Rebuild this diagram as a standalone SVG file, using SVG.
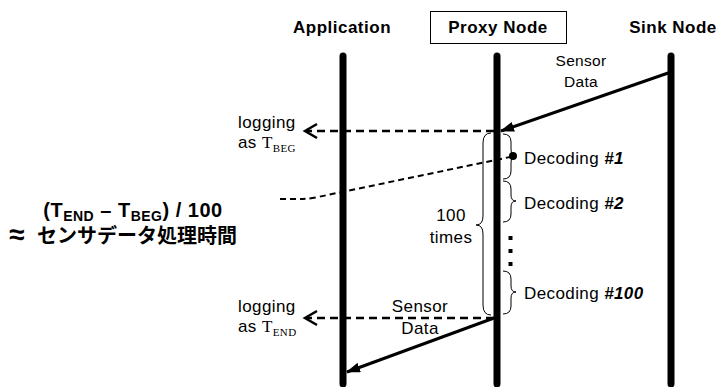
<svg xmlns="http://www.w3.org/2000/svg" width="719" height="387" viewBox="0 0 719 387">
<style>
.hd{font-family:"Liberation Sans",Arial,sans-serif;font-weight:bold;font-size:17px;letter-spacing:0.5px;fill:#000}
.tx{font-family:"Liberation Sans",Arial,sans-serif;font-size:17px;letter-spacing:0.4px;fill:#000}
.sm{font-family:"Liberation Sans",Arial,sans-serif;font-size:15.5px;letter-spacing:0.3px;fill:#000}
.tm{font-family:"Liberation Serif","Times New Roman",serif;fill:#000}
.bi{font-weight:bold;font-style:italic}
.life{stroke:#000;stroke-width:7;stroke-linecap:round;fill:none}
.dash{stroke:#000;stroke-width:2.5;stroke-dasharray:8 5;fill:none}
.chev{stroke:#000;stroke-width:2.5;fill:none}
.solid{stroke:#000;stroke-width:3;fill:none}
.brace{stroke:#000;stroke-width:1;fill:none}
.fm{font-family:"Liberation Sans",Arial,"Noto Sans CJK JP",sans-serif;font-weight:bold;fill:#000}
</style>
<defs>
<marker id="ah" viewBox="0 0 14 10" refX="13" refY="5" markerWidth="14" markerHeight="10" markerUnits="userSpaceOnUse" orient="auto">
<path d="M0,0 L14,5 L0,10 Z" fill="#000"/>
</marker>
</defs>
<g id="application">
<text class="hd" x="342" y="33" text-anchor="middle">Application</text>
<line class="life" x1="343" y1="56" x2="343" y2="384"/>
</g>
<g id="proxy-node">
<rect x="430.5" y="11.5" width="136" height="32" fill="#fff" stroke="#000" stroke-width="1"/>
<text class="hd" x="498" y="33" text-anchor="middle">Proxy Node</text>
<line class="life" x1="497" y1="56" x2="497" y2="384"/>
</g>
<g id="sink-node">
<text class="hd" x="673" y="33" text-anchor="middle">Sink Node</text>
<line class="life" x1="671" y1="56" x2="671" y2="384"/>
</g>
<g id="connectors">
<line class="solid" x1="671" y1="72" x2="501" y2="131" marker-end="url(#ah)"/>
<line class="dash" x1="494" y1="131" x2="307" y2="131"/>
<polyline class="chev" points="317,124 305,131 317,138"/>
<line class="dash" x1="494" y1="318" x2="307" y2="318"/>
<polyline class="chev" points="317,311 305,318 317,325"/>
<line class="solid" x1="494" y1="318" x2="347" y2="372" marker-end="url(#ah)"/>
<path class="dash" style="stroke-width:2;stroke-dasharray:6 4" d="M280,199 L300,199 Q308,199 318,197 L510,157"/>
</g>
<g id="labels">
<text class="sm" x="581" y="66" text-anchor="middle">Sensor</text>
<text class="sm" x="581" y="87" text-anchor="middle">Data</text>
<text class="tx" x="420" y="312" text-anchor="middle">Sensor</text>
<text class="tx" x="420" y="334" text-anchor="middle">Data</text>
<text class="tx" x="238" y="128">logging</text>
<text class="tx" x="238" y="148">as <tspan class="tm" font-size="17">T</tspan><tspan class="tm" font-size="11" dy="4">BEG</tspan></text>
<text class="tx" x="238" y="312">logging</text>
<text class="tx" x="238" y="332">as <tspan class="tm" font-size="17">T</tspan><tspan class="tm" font-size="11" dy="4">END</tspan></text>
</g>
<g id="loop">
<path class="brace" d="M491,133 Q483,133 483,143 L483,216 Q483,225 476,225 Q483,225 483,234 L483,305 Q483,315 491,315"/>
<text class="tx" x="451" y="221" text-anchor="middle">100</text>
<text class="tx" x="451" y="243" text-anchor="middle">times</text>
<path class="brace" d="M503,134 Q511,134 511,142 L511,149 Q511,156 516,156 Q511,156 511,163 L511,171 Q511,179 503,179"/>
<path class="brace" d="M503,181 Q511,181 511,189 L511,195 Q511,201 516,201 Q511,201 511,207 L511,214 Q511,222 503,222"/>
<path class="brace" d="M503,271 Q511,271 511,279 L511,286 Q511,292 516,292 Q511,292 511,298 L511,306 Q511,314 503,314"/>
<circle cx="513" cy="156" r="4" fill="#000"/>
<rect x="508.5" y="236" width="4" height="4" fill="#000"/>
<rect x="508.5" y="249" width="4" height="4" fill="#000"/>
<rect x="508.5" y="262" width="4" height="4" fill="#000"/>
<text class="tx" x="524" y="164">Decoding <tspan class="bi">#1</tspan></text>
<text class="tx" x="524" y="209">Decoding <tspan class="bi">#2</tspan></text>
<text class="tx" x="524" y="299">Decoding <tspan class="bi">#100</tspan></text>
</g>
<g id="formula">
<text class="fm" x="133" y="217" text-anchor="middle" font-size="20" letter-spacing="0.5">(T<tspan font-size="14" dy="4">END</tspan><tspan dy="-4"> – T</tspan><tspan font-size="14" dy="4">BEG</tspan><tspan dy="-4">) / 100</tspan></text>
<text class="fm" x="9" y="244" font-size="20"><tspan font-size="28">≈</tspan><tspan x="37" y="243">センサデータ処理時間</tspan></text>
</g>
</svg>
